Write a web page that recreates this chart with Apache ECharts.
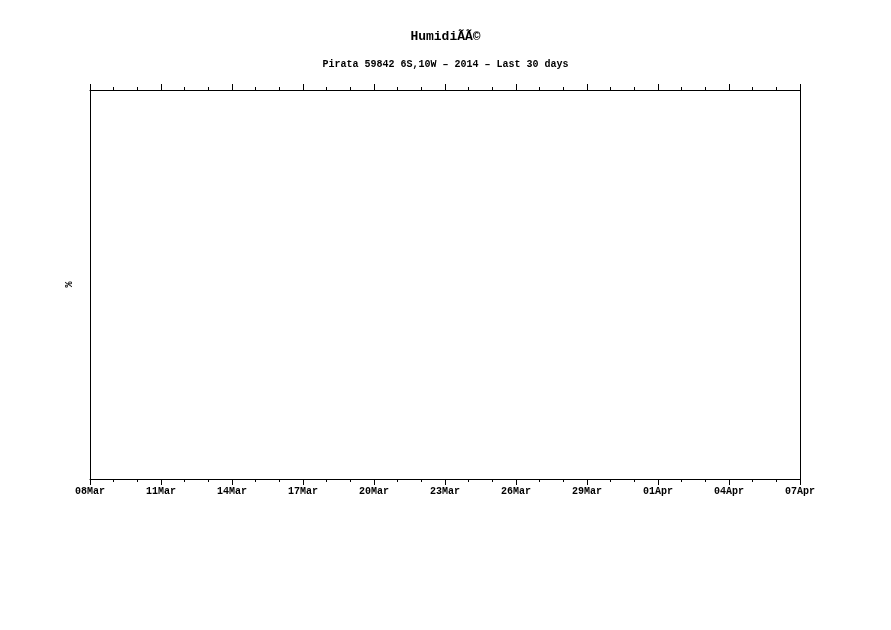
<!DOCTYPE html>
<html><head><meta charset="utf-8">
<script src="https://cdn.jsdelivr.net/npm/echarts@6/dist/echarts.min.js"></script>
<style>html,body{margin:0;padding:0;background:#fff}#c{width:891px;height:630px}</style>
</head><body><div id="c"></div>
<script>
var titleText = 'HumidiÃÃ©';
var subtitleText = 'Pirata 59842 6S,10W \u2013 2014 \u2013 Last 30 days';
var yAxisName = '%';
var tickLabels = ['08Mar','11Mar','14Mar','17Mar','20Mar','23Mar','26Mar','29Mar','01Apr','04Apr','07Apr'];
var dayOffsets = [];      // days since 08Mar (no data in this period)
var humidity = [];        // % values (none reported)

var font = '"Liberation Mono", monospace';
var chart = echarts.init(document.getElementById('c'), null, {renderer: 'canvas'});
var lineStyle = {color: '#000', width: 1};
chart.setOption({
  animation: false,
  backgroundColor: '#fff',
  title: [
    {text: titleText, left: 'center', top: 25, textStyle: {fontFamily: font, fontSize: 13, fontWeight: 'bold', color: '#000'}},
    {text: subtitleText, left: 'center', top: 54, textStyle: {fontFamily: font, fontSize: 10, fontWeight: 'bold', color: '#000'}}
  ],
  grid: {left: 90, right: 91, top: 90, bottom: 151, containLabel: false},
  xAxis: [
    {type: 'value', position: 'bottom', min: 0, max: 30, interval: 3,
     axisLine: {show: true, onZero: false, lineStyle: lineStyle},
     axisTick: {show: true, inside: false, length: 6, lineStyle: lineStyle},
     minorTick: {show: true, splitNumber: 3, length: 3, lineStyle: lineStyle},
     splitLine: {show: false},
     axisLabel: {show: true, margin: 7, color: '#000', fontFamily: font, fontSize: 10, fontWeight: 'bold',
       formatter: function (v) { return tickLabels[Math.round(v / 3)] || ''; }}},
    {type: 'value', position: 'top', min: 0, max: 30, interval: 3,
     axisLine: {show: true, onZero: false, lineStyle: lineStyle},
     axisTick: {show: true, inside: false, length: 6, lineStyle: lineStyle},
     minorTick: {show: true, splitNumber: 3, length: 3, lineStyle: lineStyle},
     splitLine: {show: false}, axisLabel: {show: false}}
  ],
  yAxis: [
    {type: 'value', position: 'left', min: 0, max: 100,
     name: yAxisName, nameLocation: 'middle', nameGap: 16, nameRotate: 90,
     nameTextStyle: {fontFamily: font, fontSize: 10, fontWeight: 'bold', color: '#000'},
     axisLine: {show: true, onZero: false, lineStyle: lineStyle}, axisTick: {show: false},
     axisLabel: {show: false}, splitLine: {show: false}},
    {type: 'value', position: 'right', min: 0, max: 100,
     axisLine: {show: true, onZero: false, lineStyle: lineStyle}, axisTick: {show: false},
     axisLabel: {show: false}, splitLine: {show: false}}
  ],
  series: [{
    type: 'line', xAxisIndex: 0, yAxisIndex: 0, showSymbol: false,
    lineStyle: {color: '#000', width: 1},
    data: dayOffsets.map(function (d, i) { return [d, humidity[i]]; })
  }]
});
</script></body></html>
